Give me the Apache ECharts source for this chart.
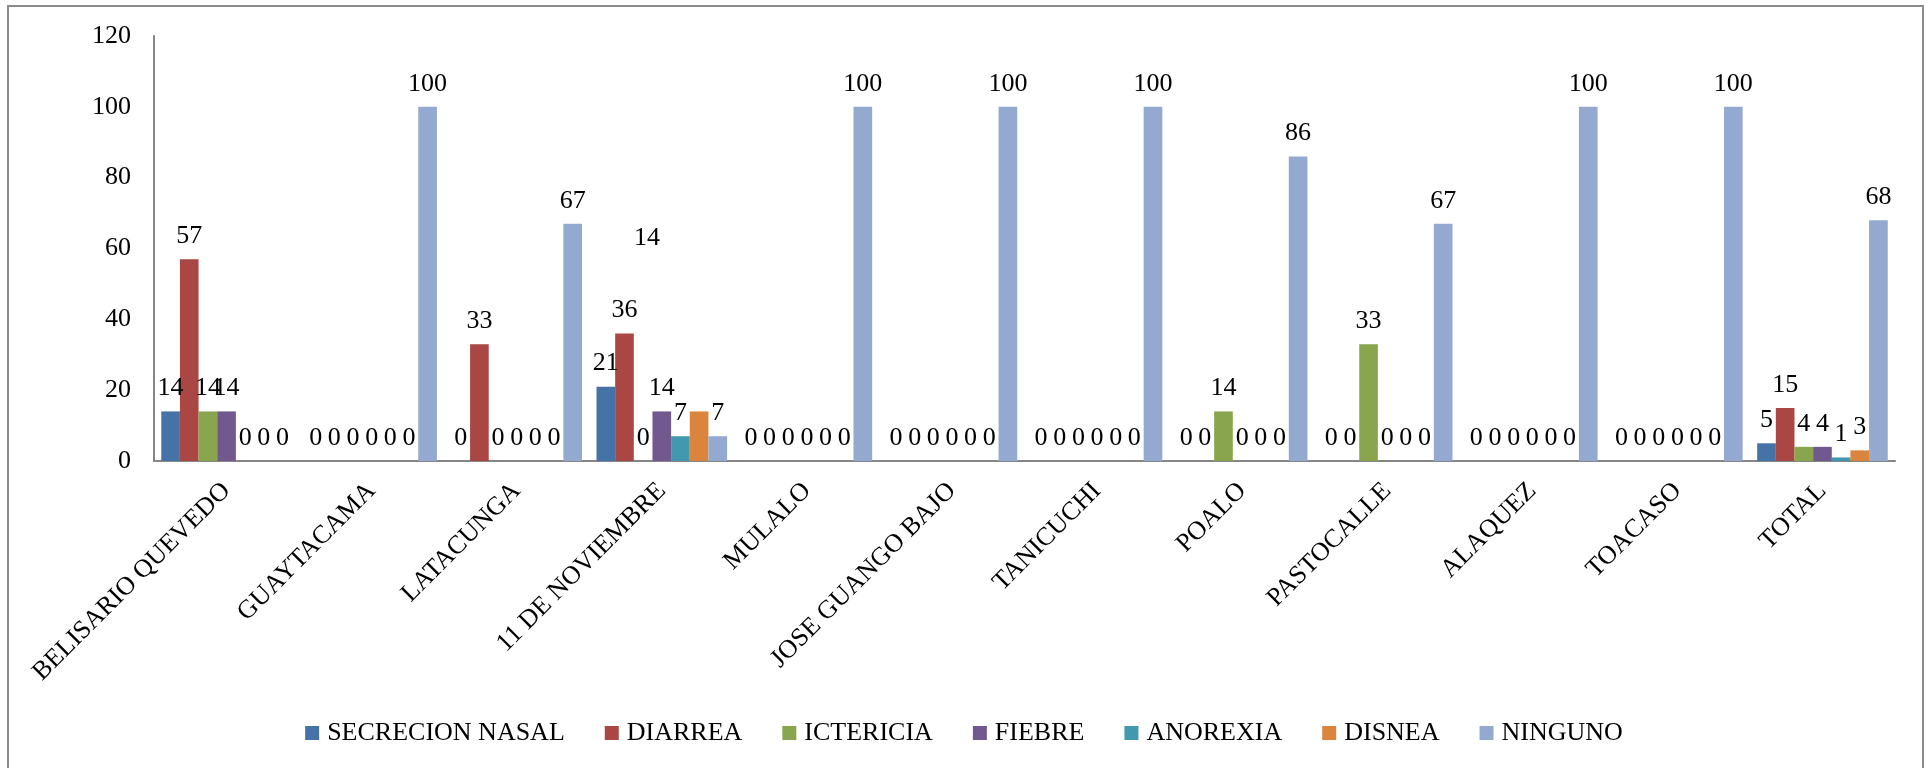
<!DOCTYPE html>
<html>
<head>
<meta charset="utf-8">
<script src="https://cdn.jsdelivr.net/npm/echarts@6/dist/echarts.min.js"></script>
<style>
html,body{margin:0;padding:0;background:#fff;}
#chart{width:1928px;height:768px;}
</style>
</head>
<body>
<div id="chart"></div>
<script>
const categories = ['BELISARIO QUEVEDO','GUAYTACAMA','LATACUNGA','11 DE NOVIEMBRE','MULALO','JOSE GUANGO BAJO','TANICUCHI','POALO','PASTOCALLE','ALAQUEZ','TOACASO','TOTAL'];
const secrecionNasal = [14,0,0,21,0,0,0,0,0,0,0,5];
const diarrea        = [57,0,33,36,0,0,0,0,0,0,0,15];
const ictericia      = [14,0,0,0,0,0,0,14,33,0,0,4];
const fiebre         = [14,0,0,14,0,0,0,0,0,0,0,4];
const anorexia       = [0,0,0,7,0,0,0,0,0,0,0,1];
const disnea         = [0,0,0,14,0,0,0,0,0,0,0,3];
const ninguno        = [0,100,67,7,100,100,100,86,67,100,100,68];
const yTicks = [0,20,40,60,80,100,120];

const FONT = '"Liberation Serif", "Times New Roman", serif';
const seriesDefs = [
  ['SECRECION NASAL', secrecionNasal, '#4572A7'],
  ['DIARREA', diarrea, '#AA4643'],
  ['ICTERICIA', ictericia, '#89A54E'],
  ['FIEBRE', fiebre, '#71588F'],
  ['ANOREXIA', anorexia, '#4198AF'],
  ['DISNEA', disnea, '#DB843D'],
  ['NINGUNO', ninguno, '#93A9CF']
];

const chart = echarts.init(document.getElementById('chart'), null, {renderer:'canvas'});
const series = seriesDefs.map(([name, vals, color]) => ({
  name: name,
  type: 'bar',
  barGap: '0%',
  barCategoryGap: '10%',
  itemStyle: {color: color},
  label: {show: true, position: 'top', distance: 10, color: '#000', fontFamily: FONT, fontSize: 26},
  data: vals.map((v, i) => {
    if (name === 'DISNEA' && i === 3) {
      return {value: v, label: {offset: [-52, -150]}};
    }
    return v;
  })
}));

chart.setOption({
  animation: false,
  backgroundColor: '#fff',
  graphic: [{
    type: 'rect',
    shape: {x: 8, y: 6, width: 1915, height: 780},
    style: {fill: 'none', stroke: '#8c8c8c', lineWidth: 2},
    silent: true
  }],
  legend: {
    bottom: 17,
    left: 'center',
    itemWidth: 14,
    itemHeight: 14,
    itemGap: 40,
    icon: 'rect',
    textStyle: {fontFamily: FONT, fontSize: 26, color: '#000', padding: [0,0,0,3]},
    data: seriesDefs.map(s => s[0])
  },
  grid: {left: 154, right: 33, top: 36, bottom: 307, containLabel: false},
  xAxis: {
    type: 'category',
    data: categories,
    axisLine: {show: true, lineStyle: {color: '#868686', width: 2}},
    axisTick: {show: false},
    axisLabel: {rotate: 45, interval: 0, margin: 26, color: '#000', fontFamily: FONT, fontSize: 26}
  },
  yAxis: {
    type: 'value',
    min: yTicks[0],
    max: yTicks[yTicks.length-1],
    interval: yTicks[1]-yTicks[0],
    axisLine: {show: true, lineStyle: {color: '#868686', width: 2}},
    axisTick: {show: false},
    splitLine: {show: false},
    axisLabel: {margin: 23, color: '#000', fontFamily: FONT, fontSize: 26}
  },
  series: series
});
</script>
</body>
</html>
